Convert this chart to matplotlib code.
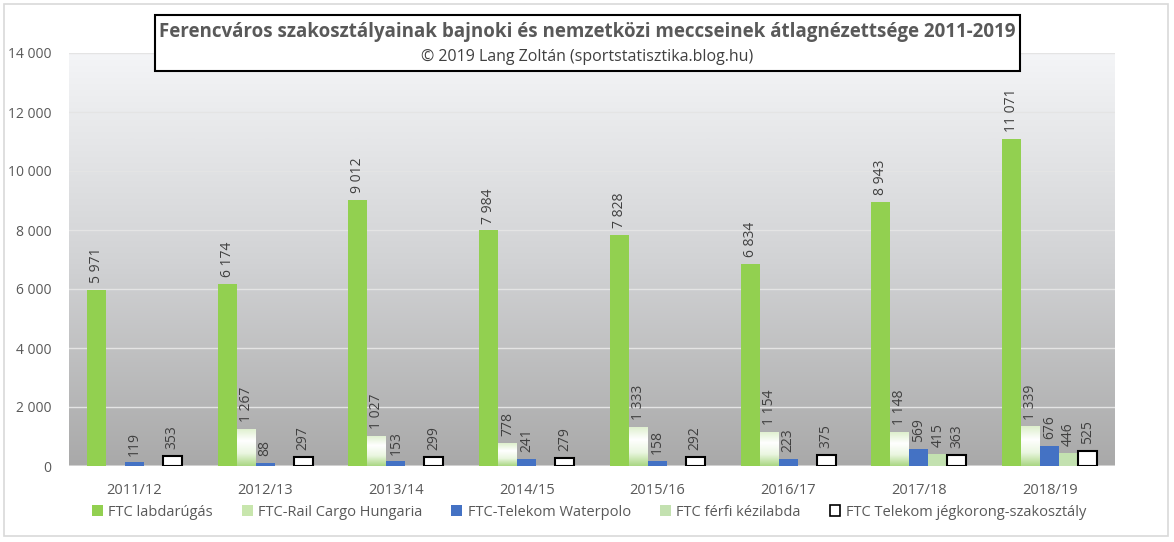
import matplotlib
matplotlib.use("Agg")
import matplotlib.pyplot as plt
import numpy as np
from matplotlib.patches import Rectangle, Patch
from matplotlib.colors import LinearSegmentedColormap

plt.rcParams['font.family'] = ['Open Sans', 'DejaVu Sans']

seasons = ["2011/12", "2012/13", "2013/14", "2014/15", "2015/16", "2016/17", "2017/18", "2018/19"]
labdarugas = [5971, 6174, 9012, 7984, 7828, 6834, 8943, 11071]
railcargo = [None, 1267, 1027, 778, 1333, 1154, 1148, 1339]
waterpolo = [119, 88, 153, 241, 158, 223, 569, 676]
kezilabda = [None, None, None, None, None, None, 415, 446]
jegkorong = [353, 297, 299, 279, 292, 375, 363, 525]
series_names = ["FTC labdarúgás", "FTC-Rail Cargo Hungaria", "FTC-Telekom Waterpolo",
                "FTC férfi kézilabda", "FTC Telekom jégkorong-szakosztály"]
yticks = [0, 2000, 4000, 6000, 8000, 10000, 12000, 14000]
title = "Ferencváros szakosztályainak bajnoki és nemzetközi meccseinek átlagnézettsége 2011-2019"
subtitle = "© 2019 Lang Zoltán (sportstatisztika.blog.hu)"

W, H = 1174, 542
fig = plt.figure(figsize=(W / 100, H / 100), dpi=100)
fig.patch.set_facecolor("white")

# outer border
fig.patches.append(Rectangle((4 / W, 1 - 536 / H), 1164 / W, 532 / H, transform=fig.transFigure,
                             fill=False, edgecolor="#d9d9d9", lw=1.2))

ax = fig.add_axes([69 / W, 1 - 466 / H, 1046 / W, 413 / H])
ax.set_xlim(-0.5, len(seasons) - 0.5)
ax.set_ylim(0, 14000)

# background gradient
grad = np.linspace(0, 1, 256).reshape(-1, 1)
bg_cmap = LinearSegmentedColormap.from_list("bg", ["#f4f5f7", "#d2d3d5", "#a9a9a9"])
ax.imshow(grad, cmap=bg_cmap, extent=[0, 1, 0, 1], transform=ax.transAxes,
          aspect="auto", zorder=0, origin="upper")

for yv in yticks[1:]:
    ax.axhline(yv, color="#e4e4e4", lw=1.0, zorder=0.5)
ax.axhline(0, color="#d9d9d9", lw=1.2, zorder=0.5)

x = np.arange(len(seasons))
bw = 0.145
offsets = [-2, -1, 0, 1, 2]
label_color = "#404040"

def vals(v):
    return np.array([np.nan if a is None else a for a in v], dtype=float)

def fmt(v):
    return f"{int(v):,}".replace(",", " ")

all_series = [labdarugas, railcargo, waterpolo, kezilabda, jegkorong]
styles = [
    dict(color="#92d050"),
    dict(color="none"),
    dict(color="#4472c4"),
    dict(color="#c3e1b0"),
    dict(facecolor="white", edgecolor="black", linewidth=1.5),
]

rail_cmap = LinearSegmentedColormap.from_list("rail", ["#ddefcc", "#ffffff", "#eaf6e0", "#a9d682"])
for i, (s, st) in enumerate(zip(all_series, styles)):
    v = vals(s)
    xs = x + offsets[i] * bw
    bars = ax.bar(xs, v, width=bw, zorder=2, **st)
    if i == 1:
        for b, val in zip(bars, v):
            if np.isnan(val):
                continue
            bx = b.get_x()
            im = ax.imshow(grad, cmap=rail_cmap, extent=[bx, bx + bw, 0, val],
                           aspect="auto", zorder=2, origin="upper")
            im.set_clip_path(b)
    for xi, val in zip(xs, v):
        if np.isnan(val):
            continue
        ax.annotate(fmt(val), (xi, val), xytext=(0, 5), textcoords="offset points",
                    rotation=90, ha="center", va="bottom", fontsize=10,
                    color=label_color, zorder=3)

ax.set_xlim(-0.5, len(seasons) - 0.5)
ax.set_ylim(0, 14000)
ax.set_yticks(yticks)
ax.set_yticklabels([fmt(t) for t in yticks], fontsize=10, color="#595959")
ax.set_xticks(x)
ax.set_xticklabels(seasons, fontsize=10.5, color="#595959")
ax.tick_params(axis="both", length=0)
ax.tick_params(axis="y", pad=12.5)
ax.tick_params(axis="x", pad=12)
for sp in ax.spines.values():
    sp.set_visible(False)

# title box
fig.patches.append(Rectangle((155 / W, 1 - 71 / H), 865 / W, 56 / H, transform=fig.transFigure,
                             facecolor="white", edgecolor="black", lw=1.5, zorder=5))
fig.text(587 / W, 1 - 32 / H, title, ha="center", va="center", fontsize=13.5,
         fontweight="bold", color="#595959", zorder=6)
fig.text(587 / W, 1 - 57 / H, subtitle, ha="center", va="center", fontsize=11.5,
         color="#404040", zorder=6)

handles = [
    Patch(facecolor="#92d050", edgecolor="none"),
    Patch(facecolor="#c8e6ad", edgecolor="none"),
    Patch(facecolor="#4472c4", edgecolor="none"),
    Patch(facecolor="#c3e1b0", edgecolor="none"),
    Patch(facecolor="white", edgecolor="black", linewidth=1.2),
]
leg = fig.legend(handles, series_names, loc="center", bbox_to_anchor=(589 / W, 1 - 512 / H),
                 ncol=5, frameon=False, fontsize=10.5, handlelength=0.75, handleheight=0.75,
                 handletextpad=0.35, columnspacing=2.0)
for t in leg.get_texts():
    t.set_color("#595959")

fig.savefig("out.png", dpi=100)
